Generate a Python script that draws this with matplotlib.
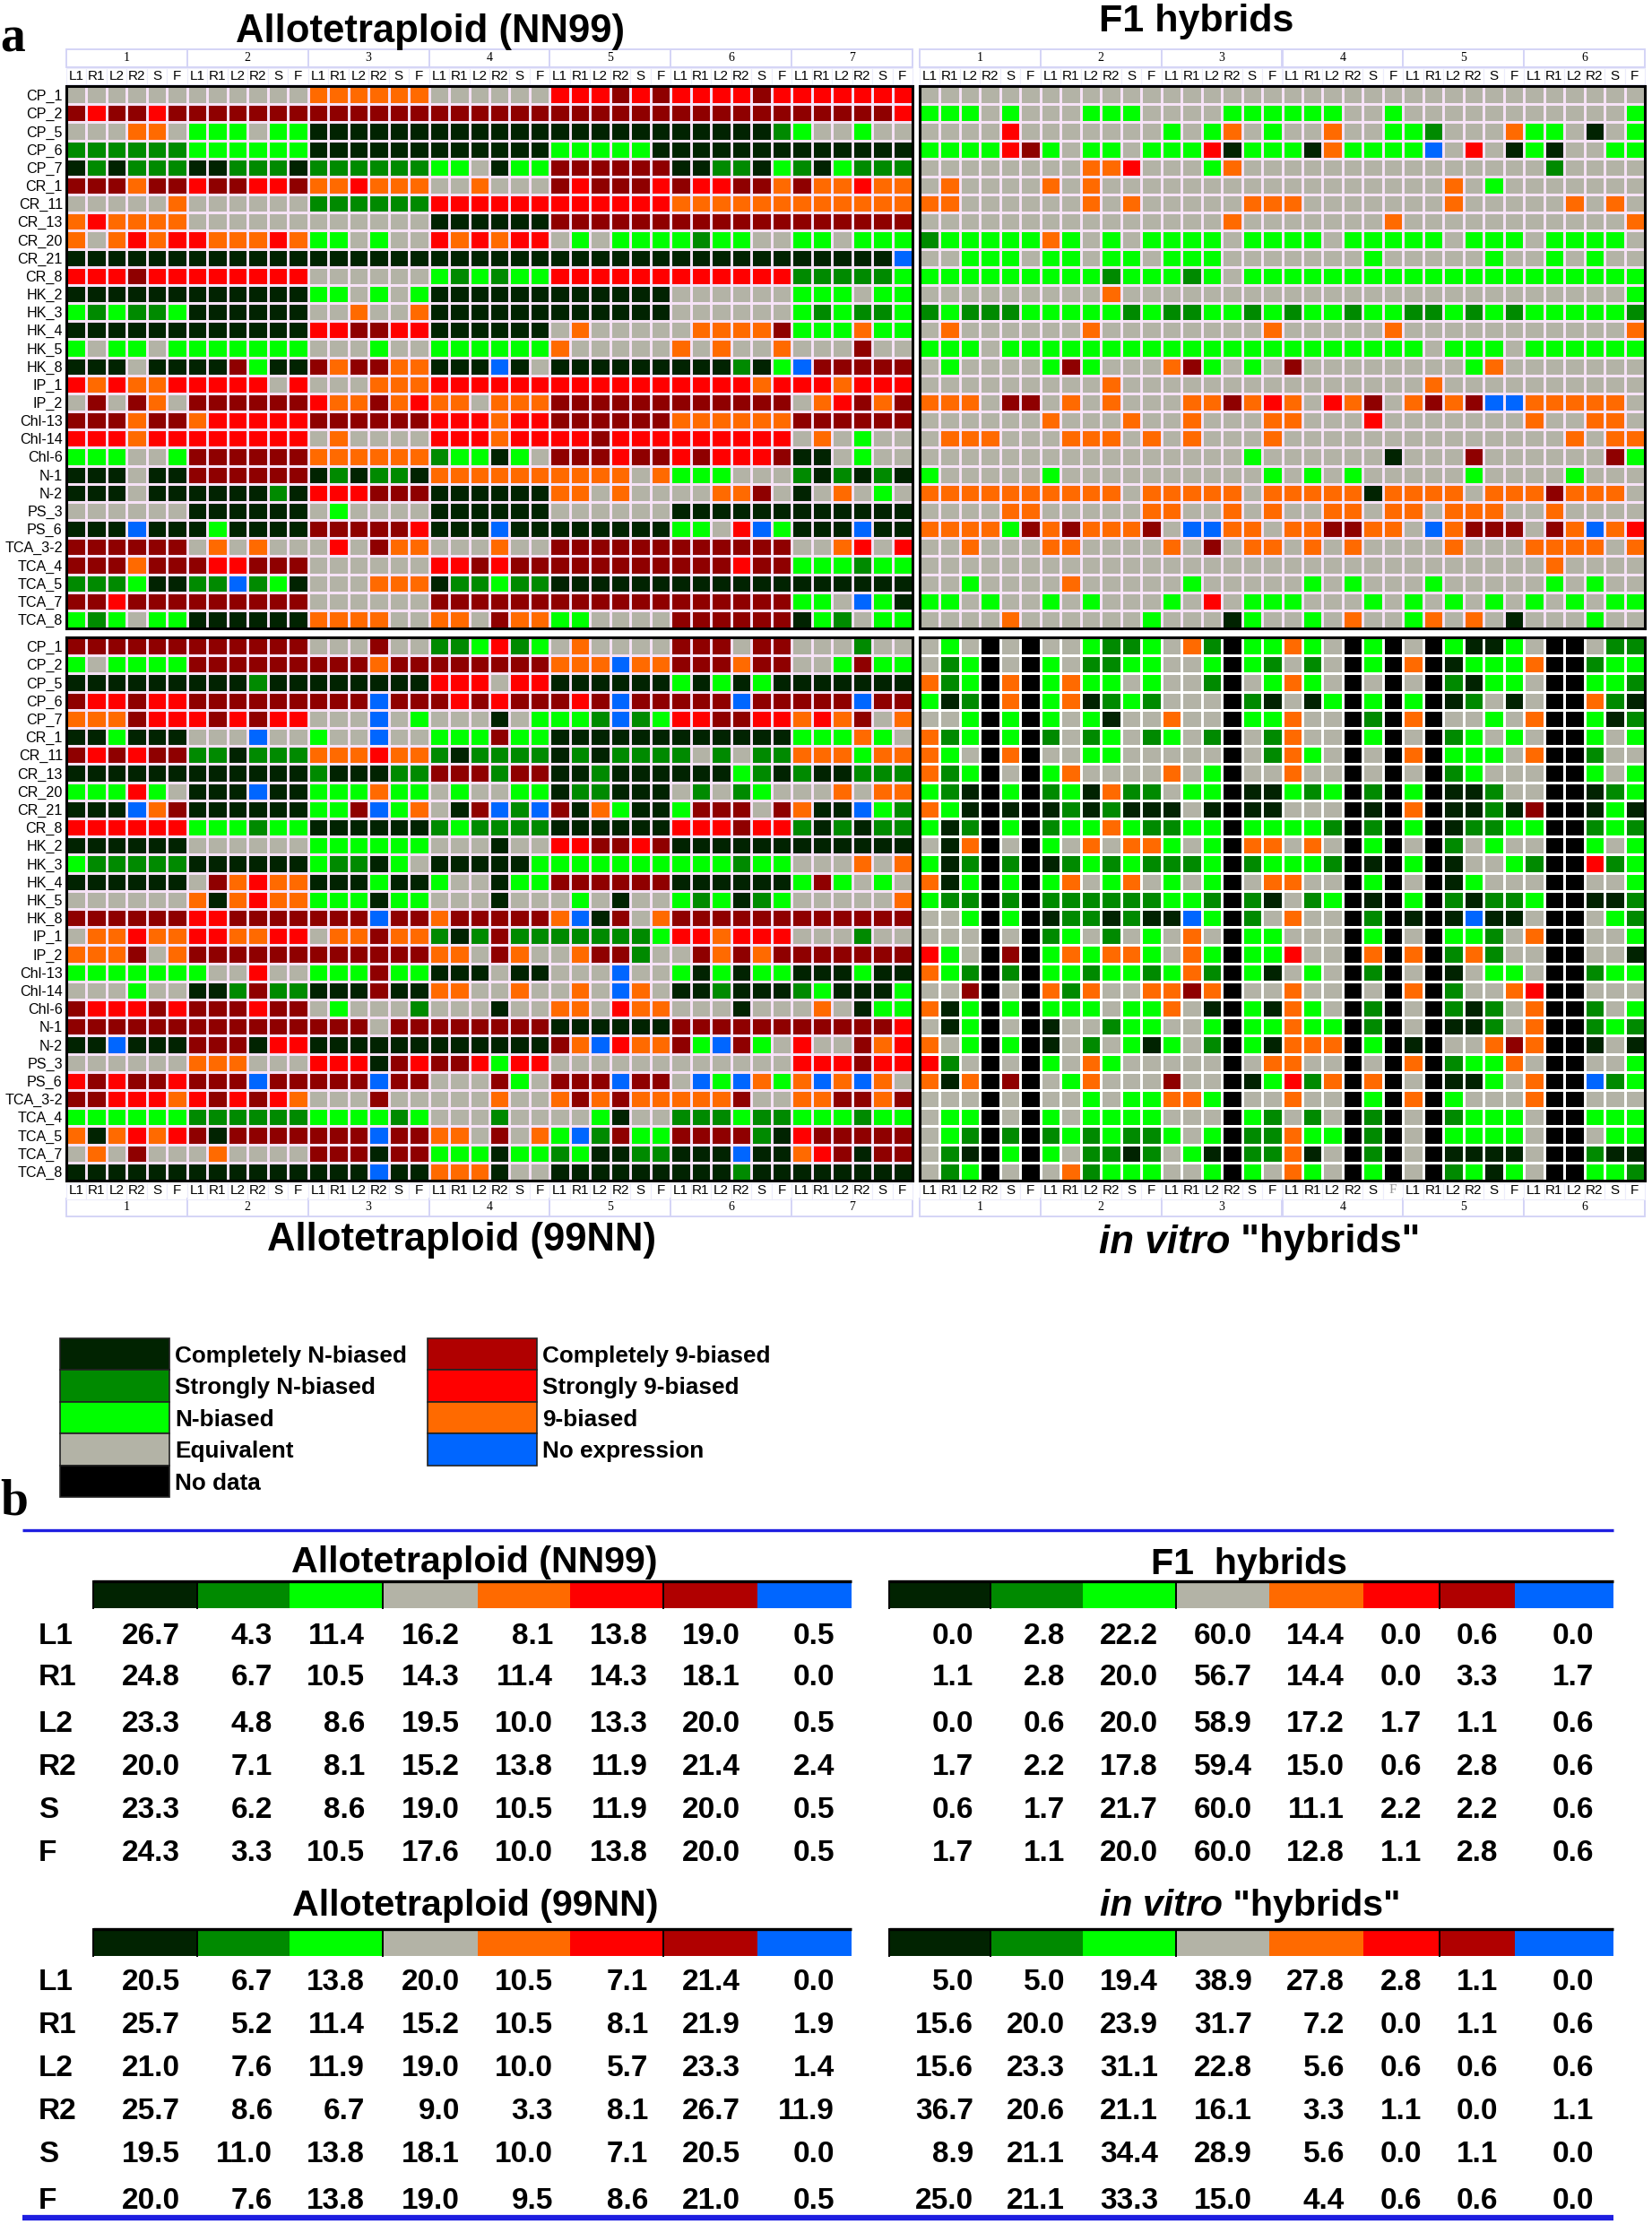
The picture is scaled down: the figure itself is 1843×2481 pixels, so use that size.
import matplotlib
matplotlib.use("Agg")
import numpy as np
import matplotlib.pyplot as plt
from matplotlib.colors import ListedColormap
from matplotlib.patches import Rectangle

plt.rcParams['font.family'] = ['Liberation Sans', 'DejaVu Sans']

# D/G/L = completely/strongly/plain N-biased, E = equivalent,
# O/R/M = 9-biased/strongly/completely, B = no expression, K = no data
codes = "DGLEORMBK"
cell_colors = ['#012301', '#008a00', '#00ff00', '#b3b3a6', '#ff6a00', '#ff0000', '#8f0000', '#0066ff', '#000000']
bias_names_left = ["Completely N-biased", "Strongly N-biased", "N-biased", "Equivalent", "No data"]
bias_colors_left = ['#012301', '#008a00', '#00ff00', '#b3b3a6', '#000000']
bias_names_right = ["Completely 9-biased", "Strongly 9-biased", "9-biased", "No expression"]
bias_colors_right = ['#b00000', '#ff0000', '#ff6a00', '#0066ff']
bar_colors = ['#012301', '#008a00', '#00ff00', '#b3b3a6', '#ff6a00', '#ff0000', '#b00000', '#0066ff']

genes = ["CP_1", "CP_2", "CP_5", "CP_6", "CP_7", "CR_1", "CR_11", "CR_13", "CR_20", "CR_21",
         "CR_8", "HK_2", "HK_3", "HK_4", "HK_5", "HK_8", "IP_1", "IP_2", "Chl-13", "Chl-14",
         "Chl-6", "N-1", "N-2", "PS_3", "PS_6", "TCA_3-2", "TCA_4", "TCA_5", "TCA_7", "TCA_8"]
tissues = ["L1", "R1", "L2", "R2", "S", "F"]

nn99 = [
    "EEEEEE EEEEEE OOOOOO EEEEEE RRRMRM RRRRMR RRRRRR",
    "MRMMRM MMMMMM MMMMMM MMMMMM MMMMMM MMMMMM MMMMMR",
    "EEEOOE LLLELL DDDDDD DDDDDD DDDDDD DDDDDG LEELEE",
    "GGGGGG LLLLLL DDDDDD DDDDDD LLLLLD DDDDDD DDDDDD",
    "DGDGGG DDGGGD GGGGGG LLEDLL MMMMMM DDGGDL GDLGGG",
    "MMMOMM RMMRRM OOROOO EEOEEE MRMMMR MRRMMO MOOROO",
    "EEEEEO EEEEEE GGGGGG RRRRRR RRRRRR OOOOOO OOOOOO",
    "OROOOO EEEEEE EEEEEE DDDDDD MMMMMM MMMMMM MMMMMM",
    "OEOROR ROOORO LLELEE RORORR ELELLL LGLLEE LLELLL",
    "DDDDDD DDDDDD DDDDDD DDDDDD DDDDDD DDDDDD DDDDDB",
    "RRRMRR RRRRRR EEEEEE LGLGLL RRRRRR RRRRRR GGGGGL",
    "DDDDDD DDDDDD LLELEL DDDDDD DDDDDD EEEEEE LLLELL",
    "LGLGGL DDDDDD EEOEEO DDDDDD DDDDDD EEEEEE LGLGGL",
    "DDDDDD DDDDDD RRMMRR DDDDDD EOEEEE EOOOOM LLLOLL",
    "LELLEL LLLLLL EEELEE LLLLLL OEEEEE OEOEEO EEEMEE",
    "DDDEDD DDMLDD MOMMOO DDDBDE DDDDDD DDDGDL BMMMMM",
    "ROROOR RRRRER EEEOOO RRRRRR RRRRRR RRRROR RRORRR",
    "EMEMOE MMMMMM ROOMOR OOEOOO MMMMMM MMMMMM EORMOM",
    "MMMOMM ORRRRR MMMMMM RRRORR MMMMMM OOOOOO MMMMMM",
    "RRRORR RRRRRR EOEEEE RRRORR RRMRRR RRRRRR EOELEE",
    "LLLEEL MMMMMM OOOOOO GLLDLE MMMRMM RMRRRM DDELEE",
    "DDDEDD MMMMMM DGDGGD OOOOOO OOOOEO LLLEEE GDGDGD",
    "DDDEDD DDDDGD RRRMMM DDDDDD OOEOEE EEOOME DEOELE",
    "EEEEEE DDDDDD ELEEEE DDDDDD EEEEEE DDDDDD DDDDDD",
    "DDDBDD DLDDDD MMMMMR DDDBDD DDDDDD LLERBL DDDBDD",
    "MMMMMM EOEOEE EREMOO EEEOEE MMMMMM MMMMMM EEORER",
    "MMMOMM MRRMMM EEEEEE RRMRMM MMMMMM MMMRMM LLLGLL",
    "GGGLDD GGBGLD EEEOOO DGGLGG DDDDDD DDDDDD DDDDDD",
    "MMRMMM MMMMMM EEEEEE MMMMMM MMMMMM MMMMMM LLEBLD",
    "LGLELL DDDDDD OOOOEE OOEMOO LLEEEE MMMMMM DLGELL",
]

f1 = [
    "EEEEEE EEEEEE EEEEEE EEEEEE EEEEEE EEEEEE",
    "LLLELE EELLLE EEELLL LLLEEL EEEEEE EEEEEL",
    "EEEERE EEEEEE LELOEL EEOEEL LGEEEO LLEDEL",
    "LLLLRM LELLEL LLRDLL LDOLLL LBERED LDEELL",
    "EEEEEE EEOORE EELOEE EEEEEE EEEEEE EGEEEE",
    "EOEEEE OEOEEE EEEEEE EEEEEE EEOELE EEEEEE",
    "OOEEEE EEOEOE EEEEOO OEEEEE EEOEEE EEOEOE",
    "EEEEEE EEEEEE EEEOEE EEEEEO EEEEEE EEEEEO",
    "GLLLLL OLELEL LLLELL LLELLL LLELLL ELLLLE",
    "EELLLE LLELLE LLLEEE EEEELE EEEELE ELELEE",
    "LLLLLL LLLGLL LGLELL LLLLLL LLLLLL LLLLLL",
    "EEEEEE EEEOEE EEEEEE EEEEEE EEEEEE EEEEEL",
    "GLGGGL LLLLGL GGLLGL GLLGLL GGLGLG LLLLLG",
    "EOEEEE EEOEEE EEEEEO EEEEEO EEEEEE EEEEEO",
    "LLLELL LLLLLL LLLLLL LLLLLL LELLLE LLLLLL",
    "ELEEEE LMLEEE OMLELE MEEEEE EEELOE EEEEEE",
    "EEEEEE EEEOEE EEEEEE EEEEEE EOEEEE EEEEEE",
    "OOOEMM EOEOEE EOOMOR OEROME OMOMBB OOOOOE",
    "EEEEEE OEEEOE EOEEEO OEEERE EEEEEE OEEOOE",
    "EOOOEE EOOOEO EOEEEO EEEEEE EEEEEE EEOEOO",
    "EEEEEE EEEEEE EEEELE EEEEED EEEMEE EEEEML",
    "LEEEEE LEEEEE EEEEEL ELELEE EEELEE EELEEE",
    "OOOOOO OOOOEO OOOOEO OOOODO OOOEOO OMOOOE",
    "EEEEOO EEEEEO OEEOEO EEOOEO OEOOOE EOEEEE",
    "OOOOLM OMOOOM EBBOOE OOMMOO EBOMMM EMOBOR",
    "EEOEEE OOEEEE OEMEOO EOEOEE EEOEEE OOOOEO",
    "EEEEEE EEEEEE EEEEEE EEEEEE EEEEEE EOEEEE",
    "EELEEE EOEEEE ELEEEE ELELEE ELEEEE ELELEE",
    "LLELEE LELEEE LERELL LEEELE LELELE LELELL",
    "EEEEOE EEEEEL EEEDLE ELEOEE LOEOED EEELEE",
]

nn99b = [
    "MMMMMM MMMMMM EEEMEE GGLRGL EOEEEE MMMEMM EEEGEE",
    "LELLLL MMMMMM MMMOMM MMMMMM OOOBOO MMMOMM EELMLL",
    "DDDDDD DDDGDD DDDDDD RRRERR DDDDDD LDLDLD DDDDDD",
    "MRRMRR MMMMMM MMMBMM MRMRMM MRMBMM MMMBMM MMMBMM",
    "OOOMRR RMRMRR EEEBEL EEEDEL LLGBGL RRMMRR OROMEO",
    "DDLDDD EEEBEE LEEBEE LLLMLL DDDDDD DDDDDD LLLOLE",
    "MRMRMM GGDGGG OOOROO GDGGGG DGDGGG GEGEGG OOOLOO",
    "DDDDDD DDDDDD GDDDGG MMMGMM DDGDDD DDDLGD GDDGGG",
    "LLLRLE DDDBDD LLLOLL ELEELL DGGDDD EGEGLE EEOEOO",
    "DDDBOM DDDDDD LLMBLO EDMBGB MDOLDD LMMMEM ODDBLG",
    "RRRRRR LLLGLL DDDDDD GLGGGG DDDDDD RRRMRR GDGDGG",
    "DDDDDD EEEEEE LLLLLL EEEDEE RRMMRM DDDDDD DDDDDD",
    "LGGGGG DDDDDD LGGDLE DDDDDL LLLLLL LLLGLL EEEOEO",
    "DDDDDD EMOROO DDDLDD LEEDLL MMMMMM DDDDDD LMLELE",
    "EEEEEE ODOROO LLLDLL EEEDEE ELEDEE LGLDGL EEEEEO",
    "MMMMMM RRMMMM MMMBMM OMMMMM OBDMEO MMMMMM MMMMMM",
    "EOOROO RROORR EOOMOO GDGMGG GGGGGL RRORRR EEEGEE",
    "OOOMEO MMMMMM MMMMMM OOEMOE EOMMGE EMOMOM MMMMMM",
    "LLLLLL LEEREE LLLMLL DDDEDD EEEBEE LDLDLL DDDLDD",
    "EEELEE DDGMGG DDDMDD OOEEOE EOEBOE DDGDDD GLDDDL",
    "MRRRMR MMMRMM ELEEEG EEEDEE OOEROO EEEDEE EOEDLL",
    "MMMMMM MMMMMM MMMEMM MMMMMM DDDDDD MMMMMM MMMMMR",
    "DDBDDD MMMDRR DDDDDD DDDDDD MOBROO MLBMLE REEMOR",
    "EEEEEE OOOEEE RRRDMR MMRLRR EEEEEE EEEEEE RRRMRR",
    "RMRMMR MMMBMM MMMBMM EEEMLE MMMBMM EBLBOL OBOBOE",
    "MMRRRO RMRMRO EEEMEE EEEOEE OMOMOO OOOMEE OOMMOM",
    "LLLLLL GGGGGG LLLLGL EEEGEE EELDEE GGGLGG LLLGLL",
    "ODOROR MDMMMM MMMBMM OOEMEO LBGMLL MMMMGD RMMMMM",
    "EOEMEE EOEEEE MMMDMM LLLDLL GLDDGG DDDBDD ORMDMM",
    "DDDDDD DDDDDD DDDBDD OOODEE DDDDDD DDDGDD DDDDDD",
]

in_vitro = [
    "ELEKEK EELGGL EOGKLL OLEKLK EKLDDL EKKEGG",
    "EGLKEK LEGGLL EELKLG EGEKLK OKDLLL OKKGLL",
    "OGLKOK LOLLEL EEGKEL OLEKEK EKGDLL EKKLLG",
    "LDGKOK LODGLG EEEKGD EDLKLK LKDGED EKKOGD",
    "EELKLK LELDEE OEEKLL OEEKGK OKEELE OKKLDG",
    "OGLKLK GEGLEG LEGKEG OEEKLK EKGLEL EKKLEL",
    "OLEKOK EELLEE EEEKEG OLEKEK OKLLLE OKKGEE",
    "OGLKEK LOEEEE OELKEE OEEKEK EKGLEE EKKLEL",
    "LGDKLK GLDOGG ELLKDD LGLKGK LKDDGE EKKDGL",
    "OLDKDK DGDGDD DEDKDD EEEKDK OKDDGD MKKDLD",
    "LDGKLK GLLOLG GLLKLL LLGKGK LKDGGL LKKGLG",
    "EDOKEK LEOEOO LELKOO EOEKLK EKGELE EKKLEL",
    "LDGKGK DGLGLG GGLKGL LLGKDK LKDEEL GKKRGL",
    "ODLKLK LOELOE LELKEO OEEKLK EKDLEE EKKEEL",
    "LGGKGK GGGGGG LLGKGD EGLKDK LKGDGG LKKDDG",
    "EELKLK DGGDGD DBLKGE OEEKGK DKDBDD EKKELG",
    "EEEKEK GLEGEL EOEKLL EEEKLK EKLLGE OKKEEL",
    "RLEKMK LOLOOL EOLKLL REEKOK OKGOGE EKKEED",
    "OLGKGK LLGLLG LOGKLD ELEKGK EKDELL EKKGLL",
    "EEMKEK OGOEEO OMOKEE OEEKEK OKGEEO RKKEEE",
    "ODLKLK LLLELL OEDKLD OLEKGK EKGDGE OKKGEL",
    "EDLKEK DEEGLL EELKLL OLLKGK EKDDGE OKKGLG",
    "OELKLK DEGELD LEGKLD OOOKLK DKEEOM OKKDED",
    "RGEKEK LEOLEE EEEKEO OEEKEK OKGLLO EKKEEL",
    "ODOKMK ELOEEE MEEKDL RGOKOK EKDDLE OKKBGL",
    "EEEKEK EELELL OOLKEE OEEKLK OKLEEE OKKEEE",
    "ELLKEK LELLLL EEEKLG EGEKGK EKGLLL EKKLLL",
    "ELGKGK GLGLGG LELKGG OLLKGK EKLLLL EKKELL",
    "EGDKLK LEGGDG ELDKGG ODEKGK EKDDDD EKKGDD",
    "EGLKEK EOGLLL EELKLE OLEKLK EKGLDL EKKLLG",
]

table_rows = ["L1", "R1", "L2", "R2", "S", "F"]
pct_nn99 = [
    [26.7, 4.3, 11.4, 16.2, 8.1, 13.8, 19.0, 0.5],
    [24.8, 6.7, 10.5, 14.3, 11.4, 14.3, 18.1, 0.0],
    [23.3, 4.8, 8.6, 19.5, 10.0, 13.3, 20.0, 0.5],
    [20.0, 7.1, 8.1, 15.2, 13.8, 11.9, 21.4, 2.4],
    [23.3, 6.2, 8.6, 19.0, 10.5, 11.9, 20.0, 0.5],
    [24.3, 3.3, 10.5, 17.6, 10.0, 13.8, 20.0, 0.5],
]
pct_f1 = [
    [0.0, 2.8, 22.2, 60.0, 14.4, 0.0, 0.6, 0.0],
    [1.1, 2.8, 20.0, 56.7, 14.4, 0.0, 3.3, 1.7],
    [0.0, 0.6, 20.0, 58.9, 17.2, 1.7, 1.1, 0.6],
    [1.7, 2.2, 17.8, 59.4, 15.0, 0.6, 2.8, 0.6],
    [0.6, 1.7, 21.7, 60.0, 11.1, 2.2, 2.2, 0.6],
    [1.7, 1.1, 20.0, 60.0, 12.8, 1.1, 2.8, 0.6],
]
pct_99nn = [
    [20.5, 6.7, 13.8, 20.0, 10.5, 7.1, 21.4, 0.0],
    [25.7, 5.2, 11.4, 15.2, 10.5, 8.1, 21.9, 1.9],
    [21.0, 7.6, 11.9, 19.0, 10.0, 5.7, 23.3, 1.4],
    [25.7, 8.6, 6.7, 9.0, 3.3, 8.1, 26.7, 11.9],
    [19.5, 11.0, 13.8, 18.1, 10.0, 7.1, 20.5, 0.0],
    [20.0, 7.6, 13.8, 19.0, 9.5, 8.6, 21.0, 0.5],
]
pct_vitro = [
    [5.0, 5.0, 19.4, 38.9, 27.8, 2.8, 1.1, 0.0],
    [15.6, 20.0, 23.9, 31.7, 7.2, 0.0, 1.1, 0.6],
    [15.6, 23.3, 31.1, 22.8, 5.6, 0.6, 0.6, 0.6],
    [36.7, 20.6, 21.1, 16.1, 3.3, 1.1, 0.0, 1.1],
    [8.9, 21.1, 34.4, 28.9, 5.6, 0.0, 1.1, 0.0],
    [25.0, 21.1, 33.3, 15.0, 4.4, 0.6, 0.6, 0.0],
]

W, H = 1843, 2481
fig = plt.figure(figsize=(W / 100, H / 100), dpi=100)

# whole-figure axes in image pixels, for headers, legend and tables
page = fig.add_axes([0, 0, 1, 1])
page.set_xlim(0, W)
page.set_ylim(H, 0)
page.axis('off')

cmap = ListedColormap(cell_colors)
LAVENDER = '#d4d4f6'


def draw_panel(rows, left, top, right, bottom, grid, show_genes, header_top):
    matrix = np.array([[codes.index(c) for c in r.replace(" ", "")] for r in rows])
    n_rows, n_cols = matrix.shape
    ax = fig.add_axes([left / W, 1 - bottom / H, (right - left) / W, (bottom - top) / H])
    ax.pcolormesh(matrix, cmap=cmap, vmin=-0.5, vmax=len(codes) - 0.5, edgecolors=grid, linewidth=2.0)
    ax.set_ylim(n_rows, 0)
    ax.set_xlim(0, n_cols)
    for s in ax.spines.values():
        s.set_linewidth(2.2)
        s.set_color('black')
    ax.set_yticks(np.arange(n_rows) + 0.5)
    if show_genes:
        ax.set_yticklabels(genes, fontsize=11.6)
    else:
        ax.set_yticklabels([])
    ax.tick_params(axis='y', length=0, pad=3)
    ax.set_xticks(np.arange(n_cols) + 0.5)
    ax.set_xticklabels(tissues * (n_cols // 6), fontsize=11)
    ax.tick_params(axis='x', length=0, pad=3, top=header_top, labeltop=header_top,
                   bottom=not header_top, labelbottom=not header_top)

    # group number row and tissue row above or below the panel
    cell = (right - left) / n_cols
    if header_top:
        sub_y, group_y = top - 20, top - 41
    else:
        sub_y, group_y = bottom + 3, bottom + 20
    for g in range(n_cols // 6):
        x0 = left + g * 6 * cell
        page.add_patch(Rectangle((x0, group_y), 6 * cell, 20, fc='white', ec=LAVENDER, lw=1.4))
        page.text(x0 + 3 * cell, group_y + 10, str(g + 1), ha='center', va='center',
                  family='Liberation Serif', fontsize=10)
        for c in range(6):
            page.add_patch(Rectangle((x0 + c * cell, sub_y), cell, 18, fc='white', ec='#ececfb', lw=0.8))
    return ax


draw_panel(nn99, 74, 96, 1018, 701, '#f6e2f6', True, True)
draw_panel(f1, 1026, 96, 1835, 701, '#f6e2f6', False, True)
draw_panel(nn99b, 74, 711, 1018, 1317, '#f6e2f6', True, False)
vitro_ax = draw_panel(in_vitro, 1026, 711, 1835, 1317, 'white', False, False)
# one washed-out label in the original
vitro_ax.get_xticklabels()[23].set_color('#999999')
vitro_ax.get_xticklabels()[23].set_family('Liberation Serif')

# panel letters and titles
page.text(0, 58, "a", family='Liberation Serif', weight='bold', fontsize=40, va='baseline')
page.text(0, 1690, "b", family='Liberation Serif', weight='bold', fontsize=40, va='baseline')
page.text(480, 35, "Allotetraploid (NN99)", weight='bold', fontsize=31.4, ha='center', va='center')
page.text(1335, 24, "F1 hybrids", weight='bold', fontsize=31, ha='center', va='center')
page.text(515, 1384, "Allotetraploid (99NN)", weight='bold', fontsize=31.4, ha='center', va='center')


def vitro_title(x, y, size):
    t = page.text(x, y, "in vitro", weight='bold', style='italic', fontsize=size, va='center')
    page.annotate(' "hybrids"', xy=(1, 0), xycoords=t, va='bottom', weight='bold', fontsize=size)


vitro_title(1226, 1386, 31.6)

# legend
for names, colors, x0, x1 in [(bias_names_left, bias_colors_left, 67, 189),
                              (bias_names_right, bias_colors_right, 477, 599)]:
    for i, (name, col) in enumerate(zip(names, colors)):
        y0 = 1493 + i * 35.4
        page.add_patch(Rectangle((x0, y0), x1 - x0, 35.4, fc=col, ec='#222222', lw=1.2))
        page.text(x1 + 6, y0 + 20, name, weight='bold', fontsize=18.8, va='center')

# separators
page.plot([25, 1800], [1707, 1707], color='#1f1fe0', lw=2.4, solid_capstyle='butt')
page.plot([25, 1800], [2474, 2474], color='#1f1fe0', lw=4.5, solid_capstyle='butt')


def draw_table(pct, edges, value_x, bar_top, row_ys, title=None, title_x=0, title_y=0, labels=False):
    if title:
        page.text(title_x, title_y, title, weight='bold', fontsize=29.6, ha='center', va='center')
    for i, col in enumerate(bar_colors):
        page.add_patch(Rectangle((edges[i], bar_top), edges[i + 1] - edges[i], 30, fc=col, ec='none'))
    page.plot([edges[0], edges[-1]], [bar_top, bar_top], color='black', lw=2.4, solid_capstyle='butt')
    for e in (edges[0], edges[1], edges[3], edges[6]):
        page.plot([e, e], [bar_top, bar_top + 30], color='black', lw=1.4)
    for r, row in enumerate(pct):
        if labels:
            page.text(43, row_ys[r], table_rows[r], weight='bold', fontsize=24, va='center')
        for c, v in enumerate(row):
            page.text(value_x[c], row_ys[r], f"{v:.1f}", weight='bold', fontsize=24, ha='right', va='center')


left_edges = [104, 220, 323, 427, 533, 636, 740, 845, 950]
left_vals = [201, 304, 407, 513, 617, 723, 826, 931]
right_edges = [992, 1105, 1208, 1312, 1416, 1521, 1606, 1690, 1800]
right_vals = [1086, 1188, 1292, 1397, 1500, 1586, 1671, 1778]
upper_ys = [1826, 1871, 1923, 1971, 2019, 2067]
lower_ys = [2211, 2259, 2307, 2356, 2404, 2455]

draw_table(pct_nn99, left_edges, left_vals, 1764, upper_ys, "Allotetraploid (NN99)", 529, 1743, True)
draw_table(pct_f1, right_edges, right_vals, 1764, upper_ys, "F1  hybrids", 1393, 1745)
draw_table(pct_99nn, left_edges, left_vals, 2152, lower_ys, "Allotetraploid (99NN)", 530, 2126, True)
draw_table(pct_vitro, right_edges, right_vals, 2152, lower_ys)
vitro_title(1227, 2126, 29.6)

fig.savefig("out.png", dpi=100)
